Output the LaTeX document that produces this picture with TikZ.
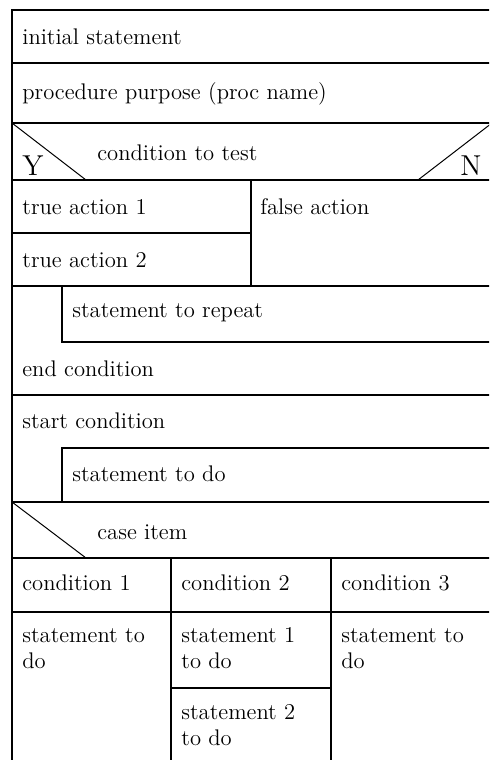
\documentclass[tikz,border=0pt]{standalone}
\usepackage{tikz}

\begin{document}
\begin{tikzpicture}[x=0.5pt, y=-0.5pt,
  nsline/.style={line width=1pt},
  slant/.style={line width=0.5pt},
  every node/.style={anchor=base west, inner sep=0pt, align=left, font=\fontsize{11.3}{13}\selectfont},
  yn/.style={font=\fontsize{14.4}{17}\selectfont}]
\useasboundingbox (0,0) rectangle (489,760);
\clip (0,0) rectangle (489,760);

\draw[nsline] (12,760) -- (12,10) -- (492,10);
\foreach \y in {63,123,180,286,395,502,558,612}
  \draw[nsline] (12,\y) -- (492,\y);
\draw[nsline] (251,180) -- (251,286);
\draw[nsline] (12,233) -- (251,233);
\draw[nsline] (62,286) -- (62,342) -- (492,342);
\draw[nsline] (62,502) -- (62,448) -- (492,448);
\draw[nsline] (171,558) -- (171,760);
\draw[nsline] (331,558) -- (331,760);
\draw[nsline] (171,688) -- (331,688);

\draw[slant] (12,123) -- (86,180);
\draw[slant] (492,123) -- (418,180);
\draw[slant] (12,502) -- (86,558);

\node (init) at (22,44) {initial statement};
\node (purpose) at (22,99) {procedure purpose (proc name)};
\node (cond) at (97,160) {condition to test};
\node[yn] (yes) at (22,175) {Y};
\node[yn] (no) at (460,175) {N};
\node (true1) at (22,214) {true action 1};
\node (false1) at (260,214) {false action};
\node (true2) at (22,267) {true action 2};
\node (repeat) at (72,317) {statement to repeat};
\node (endcond) at (22,376) {end condition};
\node (startcond) at (22,428) {start condition};
\node (dostmt) at (72,481) {statement to do};
\node (caseitem) at (97,539) {case item};
\node (case1) at (22,590) {condition 1};
\node (case2) at (181,590) {condition 2};
\node (case3) at (341,590) {condition 3};
\node (do1) at (22,668) {statement to\\do};
\node (do2a) at (181,668) {statement 1\\to do};
\node (do2b) at (181,745) {statement 2\\to do};
\node (do3) at (341,668) {statement to\\do};
\end{tikzpicture}
\end{document}
